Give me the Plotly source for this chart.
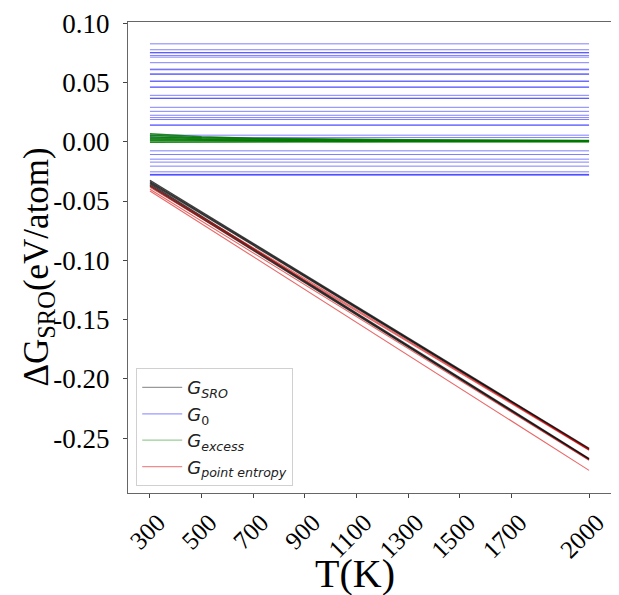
import plotly.graph_objects as go

# ---------------- data ----------------
T_line = [300, 2000]
T_curve = [300, 500, 700, 900, 1100, 1300, 1500, 1700, 2000]

# G_SRO (black) : value at 300 K and at 2000 K
g_sro_lines = [
    [-0.0325, -0.2585],
    [-0.0335, -0.2590],
    [-0.0345, -0.2595],
    [-0.0355, -0.2670],
    [-0.0365, -0.2675],
    [-0.0375, -0.2680],
]

# G_0 (blue) : constant in T
g0_levels = [
    0.0825, 0.0775, 0.0752, 0.0748, 0.0727, 0.0713, 0.0666,
    0.0612, 0.0606, 0.0573, 0.0567, 0.0511, 0.0509, 0.0461, 0.0459,
    0.0391, 0.0366, 0.0366, 0.0290, 0.0256, 0.0223, 0.0203, 0.0187,
    0.0141, 0.0139, 0.0055, 0.0035, -0.0077, -0.0108, -0.0147,
    -0.0172, -0.0206, -0.0254, -0.0275, -0.0279, -0.0282,
]

# G_excess (green) at T_curve
g_excess_lines = [
    [0.0068, 0.0041, 0.0029, 0.0023, 0.0019, 0.0016, 0.0014, 0.0012, 0.0010],
    [0.0055, 0.0033, 0.0024, 0.0018, 0.0015, 0.0013, 0.0011, 0.0010, 0.0008],
    [0.0042, 0.0025, 0.0018, 0.0014, 0.0011, 0.0010, 0.0008, 0.0007, 0.0006],
    [0.0030, 0.0018, 0.0013, 0.0010, 0.0008, 0.0007, 0.0006, 0.0005, 0.0005],
    [0.0018, 0.0011, 0.0008, 0.0006, 0.0005, 0.0004, 0.0004, 0.0003, 0.0003],
    [0.0008, 0.0005, 0.0003, 0.0003, 0.0002, 0.0002, 0.0002, 0.0001, 0.0001],
    [-0.0005, -0.0003, -0.0002, -0.0002, -0.0001, -0.0001, -0.0001, -0.0001, -0.0001],
]

# G_point entropy (red) : value at 300 K and at 2000 K
g_point_lines = [
    [-0.0370, -0.2595],
    [-0.0385, -0.2600],
    [-0.0400, -0.2685],
    [-0.0415, -0.2770],
]

x_tick_vals = [300, 500, 700, 900, 1100, 1300, 1500, 1700, 2000]
x_tick_text = ["300", "500", "700", "900", "1100", "1300", "1500", "1700", "2000"]
y_tick_vals = [0.10, 0.05, 0.00, -0.05, -0.10, -0.15, -0.20, -0.25]
y_tick_text = ["0.10", "0.05", "0.00", "-0.05", "-0.10", "-0.15", "-0.20", "-0.25"]

x_title = "T(K)"
y_title = "ΔG<sub>SRO</sub>(eV/atom)"

names = {
    "sro": "<i>G</i><sub><i>SRO</i></sub>",
    "g0": "<i>G</i><sub>0</sub>",
    "ex": "<i>G</i><sub><i>excess</i></sub>",
    "pt": "<i>G</i><sub><i>point entropy</i></sub>",
}

# ---------------- figure ----------------
fig = go.Figure()

def add_group(xs, ys_list, key, color, width, legend_color):
    for ys in ys_list:
        fig.add_trace(go.Scatter(
            x=xs, y=ys, mode="lines",
            line=dict(color=color, width=width),
            name=names[key], legendgroup=key, showlegend=False,
            hoverinfo="skip",
        ))
    # legend-only proxy with a lighter line, as in the reference legend
    fig.add_trace(go.Scatter(
        x=[None], y=[None], mode="lines",
        line=dict(color=legend_color, width=1.2),
        name=names[key], legendgroup=key, showlegend=True,
    ))

add_group(T_line, g_sro_lines, "sro", "rgba(0,0,0,0.75)", 1.3, "rgba(0,0,0,0.4)")
add_group(T_line, [[v, v] for v in g0_levels], "g0", "rgba(0,0,255,0.5)", 1.0, "rgba(0,0,255,0.4)")
add_group(T_curve, g_excess_lines, "ex", "rgba(0,120,0,0.85)", 1.5, "rgba(0,128,0,0.4)")
add_group(T_line, g_point_lines, "pt", "rgba(220,0,0,0.6)", 1.1, "rgba(220,0,0,0.45)")

serif = "Liberation Serif, Times New Roman, serif"

# page body adds an 8px margin, so the figure is sized 8px smaller on each axis
fig.update_layout(
    width=611, height=587,
    margin=dict(l=120, r=8, t=14, b=102),
    paper_bgcolor="white", plot_bgcolor="white",
    showlegend=True,
    legend=dict(
        x=0.017, y=0.265, xanchor="left", yanchor="top",
        bgcolor="white", bordercolor="#d0d0d0", borderwidth=1,
        font=dict(family="DejaVu Sans, sans-serif", size=18, color="#222"),
        tracegroupgap=0, itemwidth=40,
    ),
    xaxis=dict(
        range=[215, 2085], automargin=False,
        tickmode="array", tickvals=x_tick_vals, ticktext=x_tick_text,
        tickangle=-45, ticks="outside", ticklen=4, tickcolor="#444",
        ticklabelshift=8, ticklabeloverflow="allow",
        tickfont=dict(family=serif, size=25, color="black"),
        showgrid=False, zeroline=False,
        showline=True, mirror=True, linecolor="#666", linewidth=1.2,
    ),
    yaxis=dict(
        range=[-0.2961, 0.1009], automargin=False,
        tickmode="array", tickvals=y_tick_vals, ticktext=y_tick_text,
        ticks="outside", ticklen=4, tickcolor="#444",
        ticklabelstandoff=8,
        tickfont=dict(family=serif, size=27, color="black"),
        showgrid=False, zeroline=False,
        showline=True, mirror=True, linecolor="#666", linewidth=1.2,
    ),
    annotations=[
        dict(text=x_title, xref="paper", yref="paper", x=0.47, y=-0.17,
             xanchor="center", yanchor="middle", showarrow=False,
             font=dict(family=serif, size=40, color="black")),
        dict(text=y_title, xref="paper", yref="paper", x=-0.185, y=0.48,
             xanchor="center", yanchor="middle", showarrow=False, textangle=-90,
             font=dict(family=serif, size=35, color="black")),
    ],
)

fig.write_html("out.html")
